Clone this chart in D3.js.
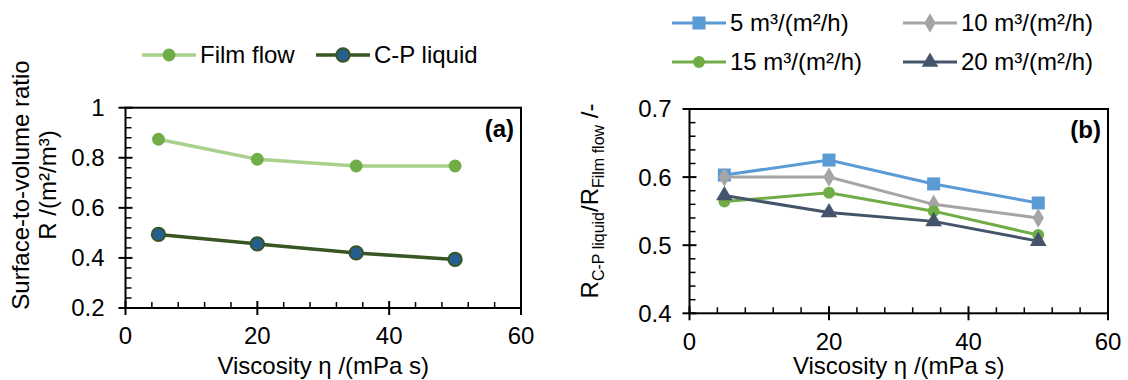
<!DOCTYPE html>
<html>
<head>
<meta charset="utf-8">
<script src="https://cdn.jsdelivr.net/npm/d3@7"></script>
<style>
  body { margin: 0; background: #fff; }
  svg text { font-family: "Liberation Sans", Arial, sans-serif; fill: #000; }
</style>
</head>
<body>
<div id="chart"></div>
<script>
/* DATA */
const viscosity = [5, 20, 35, 50];
const xTicks = [0, 20, 40, 60];

// panel (a): surface-to-volume ratio
const filmFlow = [0.874, 0.794, 0.767, 0.767];
const cpLiquid = [0.494, 0.456, 0.42, 0.394];
const yTicksA = [0.2, 0.4, 0.6, 0.8, 1];

// panel (b): ratio by liquid load
const loadLabels = ["5 m³/(m²/h)", "10 m³/(m²/h)", "15 m³/(m²/h)", "20 m³/(m²/h)"];
const ratio5 = [0.603, 0.625, 0.590, 0.562];
const ratio10 = [0.600, 0.600, 0.560, 0.540];
const ratio15 = [0.564, 0.577, 0.550, 0.515];
const ratio20 = [0.573, 0.548, 0.535, 0.506];
const yTicksB = [0.4, 0.5, 0.6, 0.7];

const width = 1128, height = 380, fontSize = 24;

const svg = d3.select("#chart").append("svg")
  .attr("width", width)
  .attr("height", height);

/* PANEL HELPER */
function panel(p) {
  const x = d3.scaleLinear().domain([0, 60]).range([p.left, p.right]);
  const y = d3.scaleLinear().domain(p.yDomain).range([p.bottom, p.top]);
  const g = svg.append("g");

  // minor ticks, inside
  const xMinor = d3.range(0, 61, 4).filter(v => v % 20 !== 0);
  g.selectAll(".xminor").data(xMinor).join("line")
    .attr("x1", d => x(d)).attr("x2", d => x(d))
    .attr("y1", p.bottom).attr("y2", p.bottom - 6)
    .attr("stroke", "#000").attr("stroke-width", 1.5);
  const yMinor = d3.range(p.yDomain[0], p.yDomain[1] + 1e-9, p.yMinorStep)
    .filter(v => !p.yTicks.some(t => Math.abs(t - v) < 1e-9));
  g.selectAll(".yminor").data(yMinor).join("line")
    .attr("x1", p.left).attr("x2", p.left + 6)
    .attr("y1", d => y(d)).attr("y2", d => y(d))
    .attr("stroke", "#000").attr("stroke-width", 1.5);

  // major ticks, crossing
  g.selectAll(".xmajor").data(xTicks).join("line")
    .attr("x1", d => x(d)).attr("x2", d => x(d))
    .attr("y1", p.bottom + 7).attr("y2", p.bottom - 7)
    .attr("stroke", "#000").attr("stroke-width", 2);
  g.selectAll(".ymajor").data(p.yTicks).join("line")
    .attr("x1", p.left - 7).attr("x2", p.left + 7)
    .attr("y1", d => y(d)).attr("y2", d => y(d))
    .attr("stroke", "#000").attr("stroke-width", 2);

  // frame
  g.append("rect")
    .attr("x", p.left).attr("y", p.top)
    .attr("width", p.right - p.left).attr("height", p.bottom - p.top)
    .attr("fill", "none").attr("stroke", "#000").attr("stroke-width", 2);

  // tick labels
  g.selectAll(".xlab").data(xTicks).join("text")
    .attr("x", d => x(d)).attr("y", p.bottom + 28)
    .attr("dy", "0.35em").attr("text-anchor", "middle")
    .style("font-size", fontSize + "px")
    .text(d => d);
  g.selectAll(".ylab").data(p.yTicks).join("text")
    .attr("x", p.left - p.labelGap).attr("y", d => y(d))
    .attr("dy", "0.35em").attr("text-anchor", "end")
    .style("font-size", fontSize + "px")
    .text(d => d3.format("~g")(d));

  // x title
  g.append("text")
    .attr("x", (p.left + p.right) / 2).attr("y", p.xTitleY)
    .attr("text-anchor", "middle")
    .style("font-size", fontSize + "px")
    .text("Viscosity η /(mPa s)");

  // panel tag
  g.append("text")
    .attr("x", p.right - 7).attr("y", p.top + 21)
    .attr("dy", "0.35em").attr("text-anchor", "end")
    .style("font-size", fontSize + "px").style("font-weight", "bold")
    .text(p.tag);

  return { x, y, g };
}

function drawSeries(ctx, values, s) {
  const pts = viscosity.map((v, i) => [v, values[i]]);
  const line = d3.line().x(d => ctx.x(d[0])).y(d => ctx.y(d[1]));
  ctx.g.append("path")
    .attr("d", line(pts))
    .attr("fill", "none")
    .attr("stroke", s.line)
    .attr("stroke-width", s.lw);
  ctx.g.selectAll(null).data(pts).join("path")
    .attr("transform", d => `translate(${ctx.x(d[0])},${ctx.y(d[1])})`)
    .attr("d", d3.symbol().type(s.symbol).size(s.size))
    .attr("fill", s.fill)
    .attr("stroke", s.stroke || "none")
    .attr("stroke-width", s.sw || 0);
}

function legendItem(x0, y0, s, label) {
  svg.append("line")
    .attr("x1", x0).attr("x2", x0 + 54)
    .attr("y1", y0).attr("y2", y0)
    .attr("stroke", s.line).attr("stroke-width", s.lw);
  svg.append("path")
    .attr("transform", `translate(${x0 + 27},${y0})`)
    .attr("d", d3.symbol().type(s.symbol).size(s.size))
    .attr("fill", s.fill)
    .attr("stroke", s.stroke || "none")
    .attr("stroke-width", s.sw || 0);
  svg.append("text")
    .attr("x", x0 + 58).attr("y", y0)
    .attr("dy", "0.35em")
    .style("font-size", fontSize + "px")
    .text(label);
}

/* PANEL (a) */
const a = panel({
  left: 125.5, right: 521, top: 107.7, bottom: 308,
  yDomain: [0.2, 1], yTicks: yTicksA, yMinorStep: 0.04, labelGap: 21,
  xTitleY: 374, tag: "(a)"
});
const styleFilm = { line: "#a9d18e", lw: 3.5, symbol: d3.symbolCircle, size: 130, fill: "#70ad47" };
const styleCP = { line: "#375623", lw: 3.5, symbol: d3.symbolCircle, size: 140, fill: "#255e91", stroke: "#375623", sw: 2 };
drawSeries(a, filmFlow, styleFilm);
drawSeries(a, cpLiquid, styleCP);

svg.append("text")
  .attr("transform", "translate(29,185) rotate(-90)")
  .attr("text-anchor", "middle")
  .style("font-size", fontSize + "px")
  .text("Surface-to-volume ratio");
svg.append("text")
  .attr("transform", "translate(56,185) rotate(-90)")
  .attr("text-anchor", "middle")
  .style("font-size", fontSize + "px")
  .text("R /(m²/m³)");

legendItem(142, 55, styleFilm, "Film flow");
legendItem(316, 55, styleCP, "C-P liquid");

/* PANEL (b) */
const b = panel({
  left: 689.5, right: 1108, top: 109, bottom: 313.3,
  yDomain: [0.4, 0.7], yTicks: yTicksB, yMinorStep: 0.02, labelGap: 18,
  xTitleY: 374, tag: "(b)"
});
const loadStyles = [
  { line: "#5b9bd5", lw: 3, symbol: d3.symbolSquare, size: 170, fill: "#5b9bd5" },
  { line: "#a5a5a5", lw: 3, symbol: d3.symbolDiamond, size: 110, fill: "#a5a5a5" },
  { line: "#70ad47", lw: 3, symbol: d3.symbolCircle, size: 110, fill: "#70ad47" },
  { line: "#44546a", lw: 3, symbol: d3.symbolTriangle, size: 120, fill: "#44546a" }
];
[ratio5, ratio10, ratio15, ratio20].forEach((vals, i) => drawSeries(b, vals, loadStyles[i]));

const yb = svg.append("text")
  .attr("transform", "translate(598,201) rotate(-90)")
  .attr("text-anchor", "middle")
  .style("font-size", fontSize + "px");
yb.append("tspan").text("R");
yb.append("tspan").attr("dy", 6).style("font-size", "16px").text("C-P liquid");
yb.append("tspan").attr("dy", -6).text("/R");
yb.append("tspan").attr("dy", 6).style("font-size", "16px").text("Film flow");
yb.append("tspan").attr("dy", -6).text(" /-");

legendItem(672, 23, loadStyles[0], loadLabels[0]);
legendItem(903, 23, loadStyles[1], loadLabels[1]);
legendItem(672, 62, loadStyles[2], loadLabels[2]);
legendItem(903, 62, loadStyles[3], loadLabels[3]);
</script>
</body>
</html>
